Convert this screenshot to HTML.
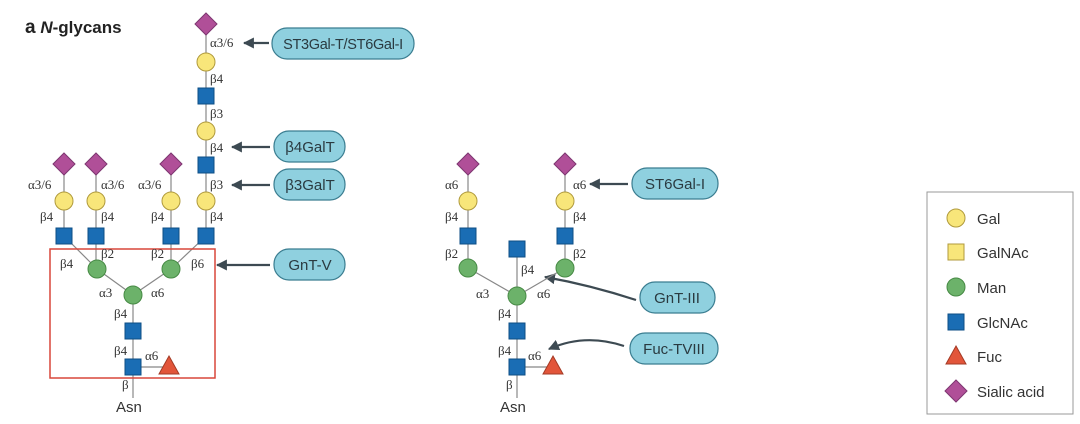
<!DOCTYPE html>
<html><head><meta charset="utf-8"><style>
html,body{margin:0;padding:0;background:#fff;}
svg{display:block}
text{font-family:"Liberation Serif",serif;font-size:13px;fill:#333}
.s{font-family:"Liberation Sans",sans-serif;}
.p{font-family:"Liberation Sans",sans-serif;font-size:15px;fill:#2a3a40}
.l{font-family:"Liberation Sans",sans-serif;font-size:15px;fill:#333}
</style></head><body>
<svg width="1080" height="424" viewBox="0 0 1080 424" xmlns="http://www.w3.org/2000/svg">
<defs>
<circle id="gal" r="9" fill="#f8e67a" stroke="#b09a3c" stroke-width="1"/>
<circle id="man" r="9" fill="#6cb26a" stroke="#478a45" stroke-width="1"/>
<rect id="glc" x="-8" y="-8" width="16" height="16" fill="#1a6db4" stroke="#0d4e85" stroke-width="1"/>
<polygon id="sia" points="0,-11 11,0 0,11 -11,0" fill="#b04f98" stroke="#7d3570" stroke-width="1"/>
<polygon id="fuc" points="0,-10 10,8 -10,8" fill="#e2553a" stroke="#a33a25" stroke-width="1"/>
<marker id="ah" viewBox="0 0 10 10" refX="9" refY="5" markerWidth="5" markerHeight="5" orient="auto"><path d="M0,0 L10,5 L0,10 z" fill="#3d4a52"/></marker>
</defs>

<text x="25" y="33" class="s" style="font-size:17px;font-weight:bold;fill:#222"><tspan style="font-size:19px">a</tspan> <tspan font-style="italic">N</tspan>-glycans</text>

<g stroke="#888" stroke-width="1.2" fill="none">
<line x1="206" y1="24" x2="206" y2="236"/>
<line x1="64" y1="164" x2="64" y2="236"/>
<line x1="96" y1="164" x2="96" y2="269"/>
<line x1="171" y1="164" x2="171" y2="269"/>
<line x1="64" y1="236" x2="97" y2="269"/>
<line x1="206" y1="236" x2="171" y2="269"/>
<line x1="97" y1="269" x2="133" y2="295"/>
<line x1="171" y1="269" x2="133" y2="295"/>
<line x1="133" y1="295" x2="133" y2="398"/>
<line x1="133" y1="367" x2="169" y2="367"/>
</g>
<rect x="50" y="249" width="165" height="129" fill="none" stroke="#d9473a" stroke-width="1.5"/>

<use href="#sia" x="206" y="24"/>
<use href="#gal" x="206" y="62"/>
<use href="#glc" x="206" y="96"/>
<use href="#gal" x="206" y="131"/>
<use href="#glc" x="206" y="165"/>
<use href="#gal" x="206" y="201"/>
<use href="#glc" x="206" y="236"/>
<use href="#sia" x="64" y="164"/><use href="#gal" x="64" y="201"/><use href="#glc" x="64" y="236"/>
<use href="#sia" x="96" y="164"/><use href="#gal" x="96" y="201"/><use href="#glc" x="96" y="236"/>
<use href="#sia" x="171" y="164"/><use href="#gal" x="171" y="201"/><use href="#glc" x="171" y="236"/>
<use href="#man" x="97" y="269"/><use href="#man" x="171" y="269"/>
<use href="#man" x="133" y="295"/>
<use href="#glc" x="133" y="331"/>
<use href="#glc" x="133" y="367"/>
<use href="#fuc" x="169" y="366"/>

<text x="210" y="47">α3/6</text>
<text x="210" y="83">β4</text>
<text x="210" y="118">β3</text>
<text x="210" y="152">β4</text>
<text x="210" y="189">β3</text>
<text x="210" y="221">β4</text>
<text x="28" y="189">α3/6</text>
<text x="101" y="189">α3/6</text>
<text x="138" y="189">α3/6</text>
<text x="40" y="221">β4</text>
<text x="101" y="221">β4</text>
<text x="151" y="221">β4</text>
<text x="60" y="268">β4</text>
<text x="101" y="258">β2</text>
<text x="151" y="258">β2</text>
<text x="191" y="268">β6</text>
<text x="99" y="297">α3</text>
<text x="151" y="297">α6</text>
<text x="114" y="318">β4</text>
<text x="114" y="355">β4</text>
<text x="145" y="360">α6</text>
<text x="122" y="389">β</text>
<text x="116" y="412" class="s" style="font-size:15px">Asn</text>

<g fill="#8fd0df" stroke="#3a7d90" stroke-width="1.2">
<rect x="272" y="28" width="142" height="31" rx="15"/>
<rect x="274" y="131" width="71" height="31" rx="15"/>
<rect x="274" y="169" width="71" height="31" rx="15"/>
<rect x="274" y="249" width="71" height="31" rx="15"/>
<rect x="632" y="168" width="86" height="31" rx="15"/>
<rect x="640" y="282" width="75" height="31" rx="15"/>
<rect x="630" y="333" width="88" height="31" rx="15"/>
</g>
<text x="343" y="49" class="p" text-anchor="middle" style="font-size:14.5px;letter-spacing:-0.3px">ST3Gal-T/ST6Gal-I</text>
<text x="310" y="152" class="p" text-anchor="middle">β4GalT</text>
<text x="310" y="190" class="p" text-anchor="middle">β3GalT</text>
<text x="310" y="270" class="p" text-anchor="middle">GnT-V</text>
<text x="675" y="189" class="p" text-anchor="middle">ST6Gal-I</text>
<text x="677" y="303" class="p" text-anchor="middle">GnT-III</text>
<text x="674" y="354" class="p" text-anchor="middle">Fuc-TVIII</text>

<g stroke="#3d4a52" stroke-width="2.2" fill="none" marker-end="url(#ah)">
<line x1="269" y1="43" x2="244" y2="43"/>
<line x1="270" y1="147" x2="232" y2="147"/>
<line x1="270" y1="185" x2="232" y2="185"/>
<line x1="270" y1="265" x2="217" y2="265"/>
<line x1="628" y1="184" x2="590" y2="184"/>
<path d="M636,300 Q590,285 545,277"/>
<path d="M624,346 Q585,333 549,349"/>
</g>

<g stroke="#888" stroke-width="1.2" fill="none">
<line x1="468" y1="164" x2="468" y2="268"/>
<line x1="565" y1="164" x2="565" y2="268"/>
<line x1="468" y1="268" x2="517" y2="296"/>
<line x1="565" y1="268" x2="517" y2="296"/>
<line x1="517" y1="248" x2="517" y2="398"/>
<line x1="517" y1="367" x2="553" y2="367"/>
</g>
<use href="#sia" x="468" y="164"/><use href="#gal" x="468" y="201"/><use href="#glc" x="468" y="236"/><use href="#man" x="468" y="268"/>
<use href="#sia" x="565" y="164"/><use href="#gal" x="565" y="201"/><use href="#glc" x="565" y="236"/><use href="#man" x="565" y="268"/>
<use href="#glc" x="517" y="249"/>
<use href="#man" x="517" y="296"/>
<use href="#glc" x="517" y="331"/>
<use href="#glc" x="517" y="367"/>
<use href="#fuc" x="553" y="366"/>
<text x="445" y="189">α6</text>
<text x="573" y="189">α6</text>
<text x="445" y="221">β4</text>
<text x="573" y="221">β4</text>
<text x="445" y="258">β2</text>
<text x="573" y="258">β2</text>
<text x="521" y="274">β4</text>
<text x="476" y="298">α3</text>
<text x="537" y="298">α6</text>
<text x="498" y="318">β4</text>
<text x="498" y="355">β4</text>
<text x="528" y="360">α6</text>
<text x="506" y="389">β</text>
<text x="500" y="412" class="s" style="font-size:15px">Asn</text>

<rect x="927" y="192" width="146" height="222" fill="none" stroke="#999" stroke-width="1"/>
<use href="#gal" x="956" y="218"/>
<rect x="948" y="244" width="16" height="16" fill="#f8e67a" stroke="#b09a3c"/>
<use href="#man" x="956" y="287"/>
<use href="#glc" x="956" y="322"/>
<use href="#fuc" x="956" y="356"/>
<use href="#sia" x="956" y="391"/>
<text x="977" y="224" class="l">Gal</text>
<text x="977" y="258" class="l">GalNAc</text>
<text x="977" y="293" class="l">Man</text>
<text x="977" y="328" class="l">GlcNAc</text>
<text x="977" y="362" class="l">Fuc</text>
<text x="977" y="397" class="l">Sialic acid</text>
</svg>
</body></html>
